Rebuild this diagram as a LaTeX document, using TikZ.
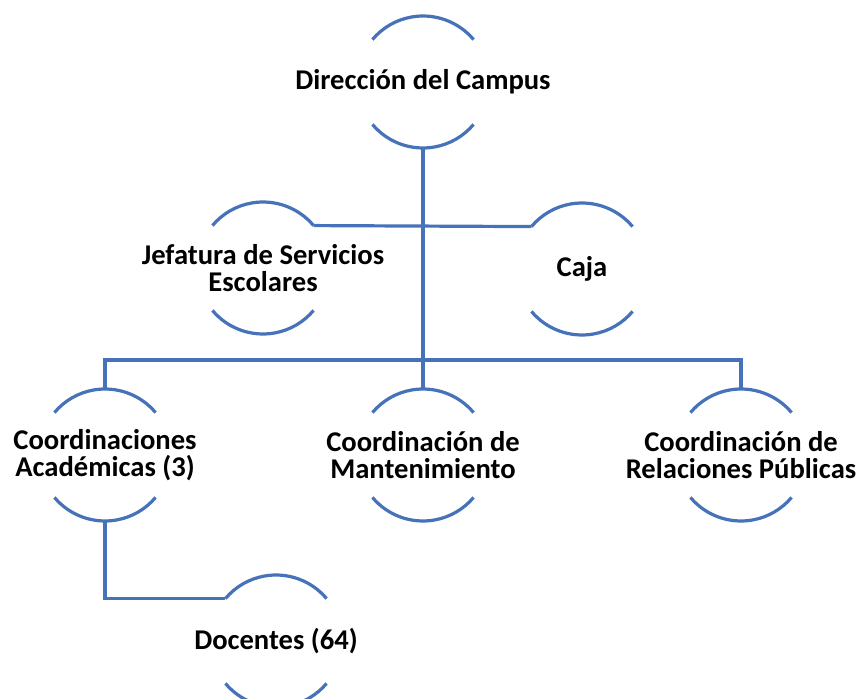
\documentclass[tikz,border=0pt]{standalone}
\usepackage{fontspec}
\setmainfont{Carlito}
\usetikzlibrary{%
    calc,
    positioning
}
\definecolor{orgblue}{RGB}{70,114,186}
\tikzset{unit/.style = {align=center, font=\fontsize{14.3}{13.8}\selectfont\bfseries, inner sep=0pt}}
\tikzset{link/.style = {draw=orgblue, line width=1.6pt}}
\tikzset{rim/.style = {link}}

\begin{document}
\begin{tikzpicture}[x=0.5pt, y=0.5pt]
    \fill[white] (0,0) rectangle (860,-699);
    \useasboundingbox (0,0) rectangle (860,-699);
    \def\R{66}

    \node[unit] (dir) at (423,-82) {Dirección del Campus};
    \node[unit] (jef) at (263,-268) {Jefatura de Servicios\\Escolares};
    \node[unit] (caja) at (582,-269) {Caja};
    \node[unit] (acad) at (105,-455) {Coordinaciones\\Académicas (3)};
    \node[unit] (mant) at (423,-455) {Coordinación de\\Mantenimiento};
    \node[unit] (rp) at (741,-455) {Coordinación de\\Relaciones Públicas};
    \node[unit] (doc) at (276,-641) {Docentes (64)};
    \coordinate (bar) at (423,-360);

    \foreach \Unit in {dir, jef, caja, acad, mant, rp, doc} {
        \coordinate (\Unit-top) at ($(\Unit.center)+(90:\R)$);
        \coordinate (\Unit-bot) at ($(\Unit.center)+(270:\R)$);
        \coordinate (\Unit-tl) at ($(\Unit.center)+(140:\R)$);
        \coordinate (\Unit-tr) at ($(\Unit.center)+(40:\R)$);
        \draw[rim] (\Unit-tr) arc[start angle=40, end angle=140, radius=\R];
        \draw[rim] ($(\Unit.center)+(220:\R)$) arc[start angle=220, end angle=320, radius=\R];
    }

    \draw[link] (dir-bot) -- (mant-top);
    \draw[link] (jef-tr) -- (caja-tl);
    \draw[link] (acad-top) |- (bar) -| (rp-top);
    \draw[link] (acad-bot) |- (doc-tl);
\end{tikzpicture}
\end{document}
